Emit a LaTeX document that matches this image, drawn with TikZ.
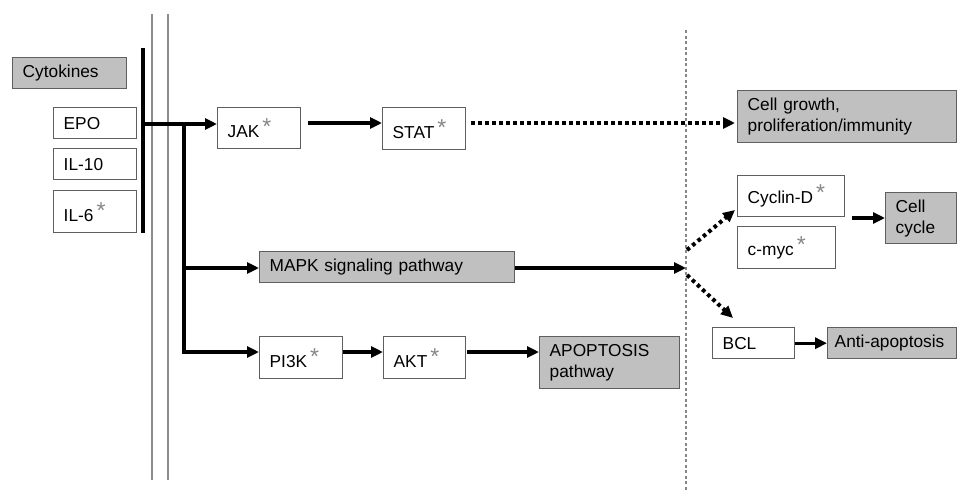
\documentclass[tikz,border=0pt]{standalone}
\usepackage{fontspec}
\setmainfont{Liberation Sans}
\usetikzlibrary{arrows.meta}
\definecolor{boxgray}{RGB}{192,192,192}
\definecolor{edgegray}{RGB}{95,95,95}
\definecolor{stargray}{RGB}{135,135,135}
\definecolor{memgray}{RGB}{140,140,140}
\newcommand\gstar{\kern3pt\raisebox{3pt}{\textcolor{stargray}{\fontsize{23}{23}\selectfont *}}}
\begin{document}
\begin{tikzpicture}[x=1pt,y=-1pt,
  font=\fontsize{17.3}{21}\selectfont,
  wbox/.style={draw=edgegray, line width=1.4pt, fill=white, anchor=north west,
               inner xsep=10pt, inner ysep=0pt, align=left},
  gbox/.style={wbox, fill=boxgray},
  arr/.style={line width=3.4pt, -{Triangle[length=12pt,width=11pt]}},
  dotarr/.style={line width=4pt, dash pattern=on 3.6pt off 3.4pt, -{Triangle[length=12pt,width=11pt]}},
]
\useasboundingbox (0,0) rectangle (957,490);

% membrane and separator lines
\draw[memgray, line width=1.7pt] (152,14) -- (152,480);
\draw[memgray, line width=1.7pt] (168,14) -- (168,480);
\draw[stargray, line width=1.2pt, dash pattern=on 3pt off 2.5pt] (686,30) -- (686,490);

% boxes
\node[gbox, minimum width=114pt, minimum height=31pt, text width=94pt] (cyto) at (12,57) {Cytokines};
\node[wbox, minimum width=83pt, minimum height=31pt, text width=63pt] (epo) at (53,107) {EPO};
\node[wbox, minimum width=83pt, minimum height=31pt, text width=63pt] (il10) at (53,148) {IL-10};
\node[wbox, minimum width=83pt, minimum height=42pt, text width=63pt] (il6) at (53,190) {IL-6\gstar};
\node[wbox, minimum width=83pt, minimum height=41pt, text width=63pt] (jak) at (217,107) {JAK\gstar};
\node[wbox, minimum width=83pt, minimum height=42pt, text width=63pt] (stat) at (382,107) {STAT\gstar};
\node[gbox, minimum width=219pt, minimum height=52pt, text width=199pt] (grow) at (737,90) {Cell growth,\\proliferation/immunity};
\node[wbox, minimum width=107pt, minimum height=41pt, text width=87pt] (cyc) at (737,175) {Cyclin-D\gstar};
\node[wbox, minimum width=98pt, minimum height=42pt, text width=78pt] (myc) at (737,226) {c-myc\gstar};
\node[gbox, minimum width=71pt, minimum height=51pt, text width=51pt] (ccyc) at (885,192) {Cell\\cycle};
\node[gbox, minimum width=255pt, minimum height=31pt, text width=235pt] (mapk) at (259,251) {MAPK signaling pathway};
\node[wbox, minimum width=82pt, minimum height=31pt, text width=62pt] (bcl) at (712,327) {BCL};
\node[gbox, minimum width=129pt, minimum height=31pt, text width=115pt, inner xsep=7pt] (anti) at (827,327) {Anti-apoptosis};
\node[wbox, minimum width=83pt, minimum height=42pt, text width=63pt] (pi3k) at (259,336) {PI3K\gstar};
\node[wbox, minimum width=82pt, minimum height=42pt, text width=62pt] (akt) at (383,336) {AKT\gstar};
\node[gbox, minimum width=140pt, minimum height=52pt, text width=120pt] (apop) at (539,336) {APOPTOSIS\\pathway};

% receptor bar
\coordinate (b1) at (143,48);
\coordinate (b2) at (143,233);
\draw[line width=4pt] (b1) -- (b2);

% connectors
\coordinate (j0) at (143,124);
\coordinate (br) at (184,124);
\coordinate (m0) at (184,268);
\coordinate (p0) at (184,352);
\draw[arr] (j0) -- (j0 -| jak.west);
\draw[arr] (br) |- (p0 -| pi3k.west);
\draw[arr] (m0) -- (m0 -| mapk.west);

\coordinate (js) at (308,123);
\draw[arr] (js) -- (js -| stat.west);

\coordinate (sd) at (471,123);
\coordinate (se) at (735,123);
\draw[dotarr] (sd) -- (se);

\coordinate (hub) at (686,268);
\draw[arr] (mapk.east |- hub) -- (hub);
\coordinate (hu) at (687,250);
\coordinate (hd) at (687,275);
\coordinate (cu) at (735,210);
\coordinate (bd) at (733,318);
\draw[dotarr] (hu) -- (cu);
\draw[dotarr] (hd) -- (bd);

\coordinate (cc) at (852,218);
\draw[arr] (cc) -- (cc -| ccyc.west);
\draw[arr] (bcl.east) -- (anti.west);

\coordinate (pa) at (343,352);
\draw[arr] (pa) -- (pa -| akt.west);
\coordinate (aa) at (467,352);
\draw[arr] (aa) -- (aa -| apop.west);
\end{tikzpicture}
\end{document}
